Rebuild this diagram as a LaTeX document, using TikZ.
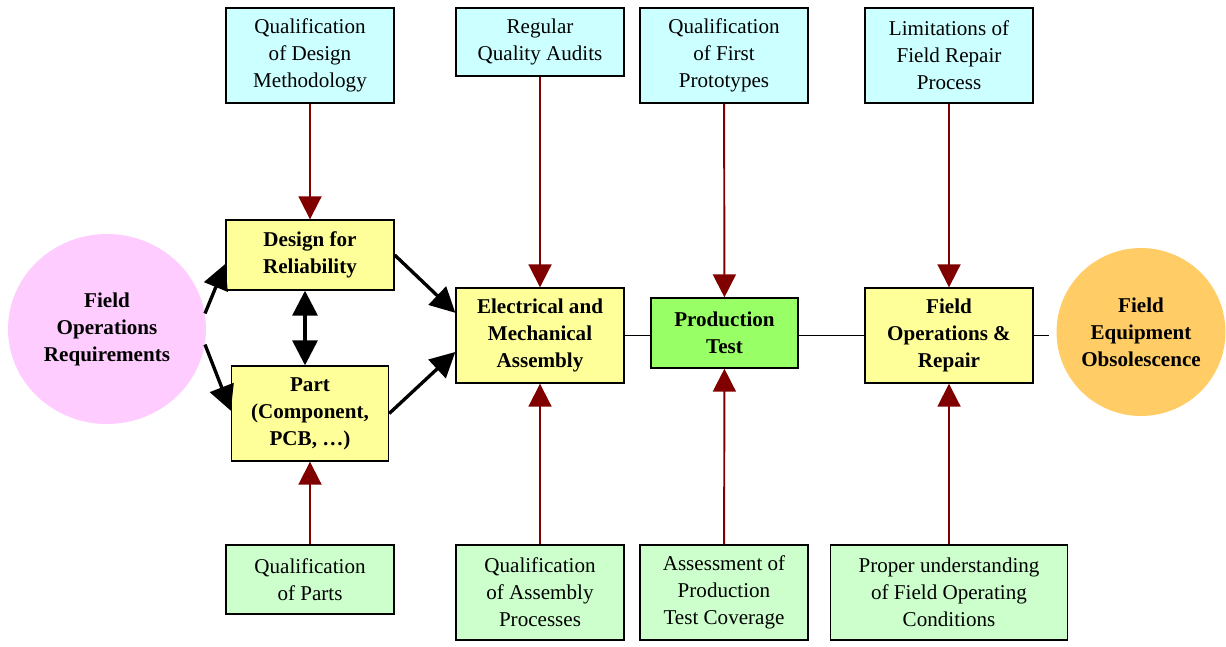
\documentclass[tikz,border=0pt]{standalone}
\usepackage{fontspec}
\setmainfont{Liberation Serif}
\usetikzlibrary{shapes,arrows.meta,positioning}

\definecolor{TopBlue}{HTML}{CCFFFF}
\definecolor{BotGreen}{HTML}{CCFFCC}
\definecolor{StageYellow}{HTML}{FFFF99}
\definecolor{TestGreen}{HTML}{99FF66}
\definecolor{ReqPink}{HTML}{FFCCFF}
\definecolor{ObsOrange}{HTML}{FFCC66}
\definecolor{FeedRed}{HTML}{800000}

\begin{document}
\begin{tikzpicture}[x=0.02cm, y=-0.02cm]
		\tikzstyle{Box}		= [rectangle, draw, line width=0.8pt, align=center, inner sep=0pt, font={\fontsize{12}{15.4}\selectfont}]
		\tikzstyle{Tall}	= [minimum width=3.36cm, minimum height=1.9cm]
		\tikzstyle{Short}	= [minimum width=3.36cm, minimum height=1.4cm]
		\tikzstyle{Upper}	= [Box, fill=TopBlue]
		\tikzstyle{Lower}	= [Box, fill=BotGreen]
		\tikzstyle{Stage}	= [Box, fill=StageYellow, font={\fontsize{12}{15.4}\selectfont\bfseries}]
		\tikzstyle{Blob}	= [ellipse, inner sep=0pt, align=center, font={\fontsize{12}{15.4}\selectfont\bfseries}]
		\tikzstyle{Feed}	= [line width=1.1pt, FeedRed]
		\tikzstyle{Flow}	= [line width=1.9pt, black]
		\tikzstyle{Link}	= [line width=0.9pt, black]
		\tikzstyle{Tip}		= [-{Triangle[length=0.46cm, width=0.46cm]}]
		\tikzstyle{BigTip}	= [-{Triangle[length=0.5cm, width=0.5cm]}]

		\useasboundingbox (0,0) rectangle (1226,646);

		\node (req) at (107,329) [Blob, fill=ReqPink, minimum width=3.96cm, minimum height=3.8cm] {Field\\Operations\\Requirements};
		\node (obs) at (1141,332) [Blob, fill=ObsOrange, minimum width=3.36cm, minimum height=3.36cm] {Field\\Equipment\\Obsolescence};

		\node (dfr) at (310,255) [Stage, Short] {Design for\\Reliability};
		\node (part) at (310,413.5) [Stage, Tall, minimum width=3.14cm] {Part\\(Component,\\PCB, \ldots)};
		\node (asm) at (540,335.5) [Stage, Tall] {Electrical and\\Mechanical\\Assembly};
		\node (prod) at (724.5,333) [Stage, Short, minimum width=2.94cm, fill=TestGreen] {Production\\Test};
		\node (fops) at (949,335.5) [Stage, Tall] {Field\\Operations \&\\Repair};

		\node (t1) at (310,55.5) [Upper, Tall] {Qualification\\of Design\\Methodology};
		\node (t2) at (540,42) [Upper, Short, minimum height=1.36cm] {Regular\\Quality Audits};
		\node (t3) at (724,55.5) [Upper, Tall] {Qualification\\of First\\Prototypes};
		\node (t4) at (949,55.5) [Upper, Tall] {Limitations of\\Field Repair\\Process};

		\node (b1) at (310,579.5) [Lower, Short, minimum height=1.38cm] {Qualification\\of Parts};
		\node (b2) at (540,592.5) [Lower, Tall] {Qualification\\of Assembly\\Processes};
		\node (b3) at (724,592.5) [Lower, Tall] {Assessment of\\Production\\Test Coverage};
		\node (b4) at (949,592.5) [Lower, Tall, minimum width=4.74cm] {Proper understanding\\of Field Operating\\Conditions};

		\draw [Tip] (t1) to (dfr) [Feed];
		\draw [Tip] (t2) to (asm) [Feed];
		\draw [Tip] (t3) to (prod) [Feed];
		\draw [Tip] (t4) to (fops) [Feed];
		\draw [Tip] (b1) to (part) [Feed];
		\draw [Tip] (b2) to (asm) [Feed];
		\draw [Tip] (b3) to (prod) [Feed];
		\draw [Tip] (b4) to (fops) [Feed];

		\draw [BigTip] (req.9) to (dfr.186) [Flow];
		\draw [BigTip] (req.-9) to (part.178) [Flow];
		\draw [{Triangle[length=0.5cm, width=0.5cm]}-{Triangle[length=0.5cm, width=0.5cm]}] ([xshift=-0.1cm]dfr.south) to ([xshift=-0.1cm]part.north) [Flow];
		\draw [BigTip] (dfr.east) to (asm.165) [Flow];
		\draw [BigTip] (part.east) to (asm.191) [Flow];

		\draw [-] (asm.east) to (asm.east -| prod.west) [Link];
		\draw [-] (prod.east |- fops.west) to (fops.west) [Link];
		\draw [-, shorten >=0.14cm] (fops.east) to (fops.east -| obs.west) [Link];
	\end{tikzpicture}
\end{document}
